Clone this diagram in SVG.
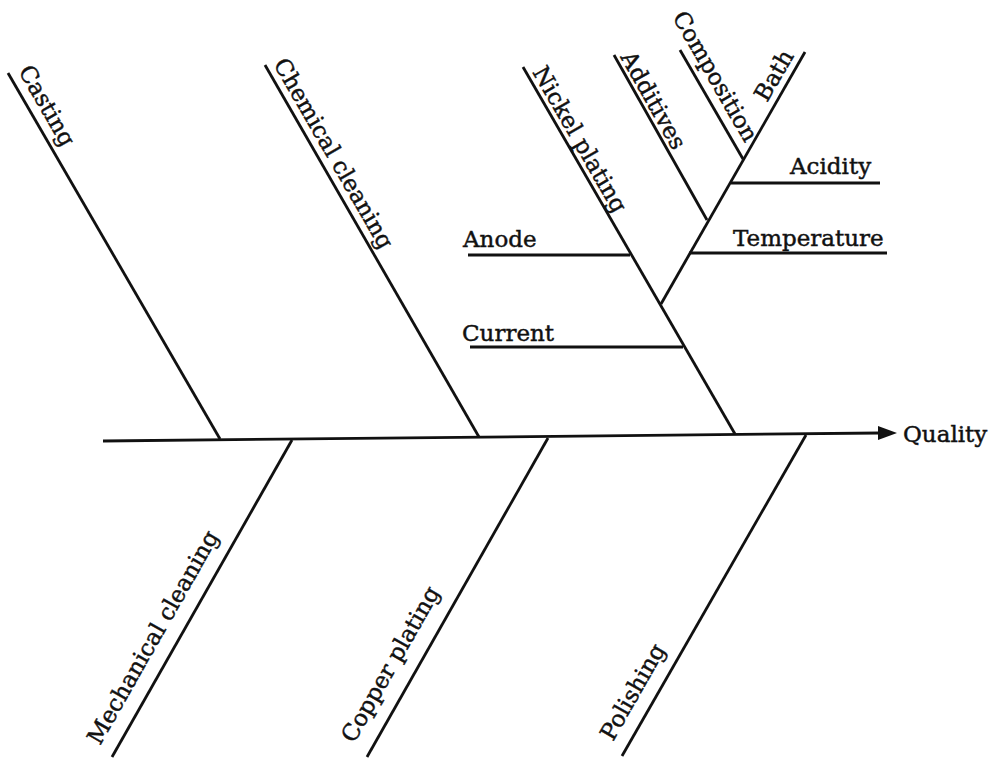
<svg xmlns="http://www.w3.org/2000/svg" width="990" height="761" viewBox="0 0 990 761">
<style>
.ln{stroke:#111;stroke-width:2.8;fill:none;stroke-linecap:butt}
.t{font-family:"DejaVu Serif","Liberation Serif",serif;font-size:23px;fill:#111;stroke:#111;stroke-width:0.45}
</style>
<rect width="990" height="761" fill="#fff"/>
<g id="connectors">
<line class="ln" x1="103" y1="441" x2="880" y2="433"/>
<polygon points="878,426 897,433 878,440" fill="#111"/>
</g>
<g id="casting">
<line class="ln" x1="8" y1="73" x2="220" y2="439"/>
<text class="t" transform="translate(18,71) rotate(60)">Casting</text>
</g>
<g id="chemical-cleaning">
<line class="ln" x1="265" y1="65" x2="479" y2="437"/>
<text class="t" transform="translate(273,64) rotate(60)">Chemical cleaning</text>
</g>
<g id="nickel-plating">
<line class="ln" x1="523" y1="67" x2="735" y2="434"/>
<text class="t" transform="translate(532,72) rotate(60)">Nickel plating</text>
<line class="ln" x1="468" y1="255" x2="630" y2="255"/>
<text class="t" x="463" y="247">Anode</text>
<line class="ln" x1="470" y1="347" x2="683" y2="347"/>
<text class="t" x="462" y="341">Current</text>
</g>
<g id="bath">
<line class="ln" x1="661" y1="304" x2="805" y2="52"/>
<text class="t" transform="translate(767,103) rotate(-60)">Bath</text>
<line class="ln" x1="614" y1="55" x2="707" y2="220"/>
<text class="t" transform="translate(620,57) rotate(60.5)">Additives</text>
<line class="ln" x1="680" y1="50" x2="743" y2="159"/>
<text class="t" transform="translate(672,17) rotate(60)">Composition</text>
<line class="ln" x1="731" y1="183" x2="880" y2="183"/>
<text class="t" x="790" y="174">Acidity</text>
<line class="ln" x1="689" y1="253" x2="887" y2="253"/>
<text class="t" x="733" y="246">Temperature</text>
</g>
<g id="mechanical-cleaning">
<line class="ln" x1="292" y1="440" x2="112" y2="757"/>
<text class="t" transform="translate(100,746) rotate(-60.4)">Mechanical cleaning</text>
</g>
<g id="copper-plating">
<line class="ln" x1="548" y1="438" x2="367" y2="757"/>
<text class="t" transform="translate(354,744) rotate(-60.4)">Copper plating</text>
</g>
<g id="polishing">
<line class="ln" x1="806" y1="435" x2="622" y2="756"/>
<text class="t" transform="translate(613,742) rotate(-60.2)">Polishing</text>
</g>
<g id="quality">
<text class="t" x="903" y="442">Quality</text>
</g>
</svg>
